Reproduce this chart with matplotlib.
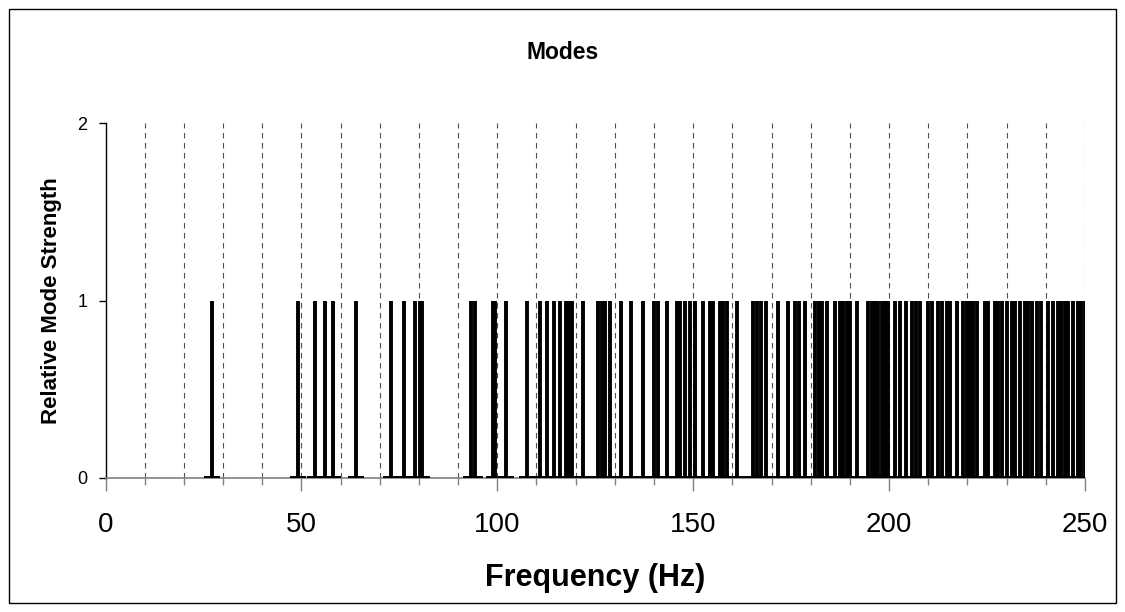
import numpy as np
import matplotlib.pyplot as plt
from matplotlib.patches import Rectangle

# mode frequencies (Hz)
modes = [
    27.1,
    49.2, 53.5, 56.0, 58.0, 63.9, 72.8, 76.2, 79.1, 80.3, 80.9,
    93.3, 94.3, 99.0, 99.5, 102.2, 107.6, 110.9, 112.6, 114.5, 116.0, 117.5, 118.3, 119.1, 121.9,
    125.8, 126.6, 127.5, 128.8, 131.7, 134.1, 137.1, 140.0, 141.1, 143.2, 145.9, 146.6, 148.0,
    149.2, 150.5, 152.6, 154.3, 155.0, 156.9, 157.7, 158.6, 161.3,
    165.3, 166.3, 167.4, 168.7, 171.7, 174.1, 175.9, 177.1, 178.5, 181.1, 182.2, 183.0, 184.2,
    186.2, 187.5, 188.3, 189.2, 190.0, 191.7, 194.7, 195.6, 196.4, 197.3, 198.1, 198.9, 199.8,
    201.5, 202.8, 204.3,
    205.8, 207.0, 207.9, 210.0, 210.9, 212.6, 213.4, 214.7, 215.5, 217.3, 218.9, 219.8, 220.6,
    221.5, 222.4, 224.5, 225.3, 227.0, 227.9,
    228.7, 230.0, 231.3, 232.1, 233.4, 234.7, 235.5, 236.4, 237.7, 238.9, 240.6, 241.9, 243.2,
    244.0, 244.9, 245.7, 247.0, 248.3, 249.1, 249.9,
]
strength = [1] * len(modes)
x_ticks = [0, 50, 100, 150, 200, 250]
y_ticks = [0, 1, 2]

plt.rcParams['font.family'] = ['Liberation Sans', 'DejaVu Sans']

fig = plt.figure(figsize=(11.25, 6.12), dpi=100)
ax = fig.add_axes([0.0938, 0.2194, 0.8706, 0.5791])

# dashed grid every 10 Hz
for g in range(10, 260, 10):
    ax.axvline(g, color='#505050', lw=0.8, linestyle=(0, (5, 4)), zorder=1)

m = np.array(modes)
ax.hlines(np.zeros(len(m)), m - 2, m + 2, color='black', lw=2.8, zorder=3, capstyle='butt')
ax.vlines(m, 0, strength, color='black', lw=2.8, zorder=3, capstyle='butt')

ax.set_xlim(0, 250)
ax.set_ylim(0, 2)
ax.set_xticks(x_ticks)
ax.set_xticks(range(0, 251, 10), minor=True)
ax.set_yticks(y_ticks)
ax.tick_params(axis='x', which='major', labelsize=20, length=9, width=1, color='#808080', pad=16)
ax.tick_params(axis='x', which='minor', length=5, width=1, color='#808080')
ax.tick_params(axis='y', labelsize=13, length=5, width=1, pad=8)

ax.spines['top'].set_visible(False)
ax.spines['right'].set_visible(False)
ax.spines['bottom'].set_color('#808080')
ax.spines['bottom'].set_linewidth(1.2)
ax.spines['left'].set_linewidth(1)

ax.set_xlabel('Frequency (Hz)', fontsize=22, fontweight='bold', labelpad=18)
ax.set_ylabel('Relative Mode Strength', fontsize=16, fontweight='bold', labelpad=11)
fig.text(0.5, 0.915, 'Modes', ha='center', va='center', fontsize=16.5, fontweight='bold')

fig.patches.append(Rectangle((0.008, 0.015), 0.984, 0.97, transform=fig.transFigure,
                             fill=False, edgecolor='black', lw=1))

fig.savefig('out.png', dpi=100)
